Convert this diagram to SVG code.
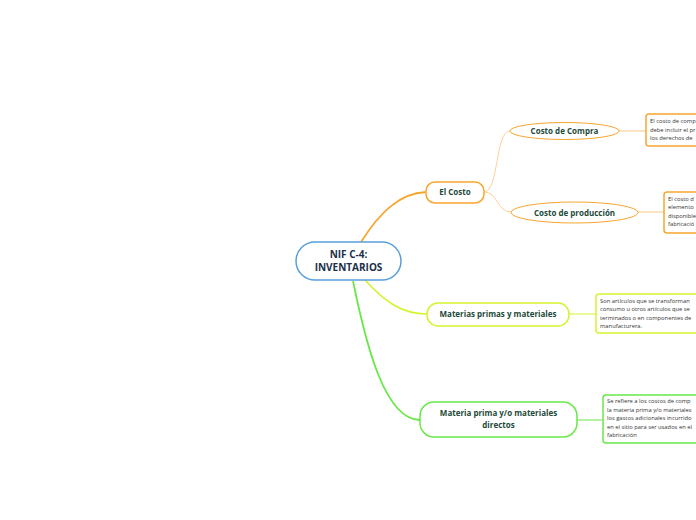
<svg xmlns="http://www.w3.org/2000/svg" width="696" height="520" viewBox="0 0 696 520">
<style>
.lbl{font-family:"Open Sans","Noto Sans",sans-serif;font-weight:bold;font-size:8px;fill:#1d4a3a;text-anchor:middle}
.ctr{font-family:"Open Sans","Noto Sans",sans-serif;font-weight:bold;font-size:10px;fill:#1b2f4a;text-anchor:middle}
.note{font-family:"Open Sans","Noto Sans",sans-serif;font-size:5.8px;fill:#333333}
.or{stroke:#f8a630}
.orl{stroke:#fdd09a}
.yg{stroke:#d6f22e}
.gr{stroke:#6ae84a}
</style>
<rect width="696" height="520" fill="#ffffff"/>
<g id="connectors" fill="none">
  <path class="or" stroke-width="1.8" d="M361,242 C380,212 400,193 426,192"/>
  <path class="orl" stroke-width="1" d="M484,192 C499,192 495,131 510,131"/>
  <path class="orl" stroke-width="1" d="M484,192 C498,192 497,212 511,212"/>
  <path class="orl" stroke-width="1.2" d="M619,131 L646,131"/>
  <path class="orl" stroke-width="1.2" d="M638,212 L664,212"/>
  <path class="yg" stroke-width="1.6" d="M365,280 C385,302 402,314 427,314"/>
  <path class="yg" stroke-width="1" d="M569,314 L596,314"/>
  <path class="gr" stroke-width="1.8" d="M353,281 C366,345 385,420 420,420"/>
  <path class="gr" stroke-width="1" d="M577,420 L603,420"/>
</g>
<g id="central">
  <rect x="296" y="242" width="105" height="38" rx="19" fill="#ffffff" stroke="#5a9fdc" stroke-width="1.5"/>
  <text class="ctr" x="348.5" y="258">NIF C-4:</text>
  <text class="ctr" x="348.5" y="271">INVENTARIOS</text>
</g>
<g id="el-costo">
  <rect x="426" y="182" width="58" height="21" rx="9" fill="#ffffff" stroke="#f8a630" stroke-width="1.5"/>
  <text class="lbl" x="455" y="195">El Costo</text>
</g>
<g id="costo-compra">
  <ellipse cx="564.5" cy="131" rx="54.5" ry="8.5" fill="#ffffff" stroke="#f8a630" stroke-width="1"/>
  <text class="lbl" x="564.5" y="134">Costo de Compra</text>
</g>
<g id="costo-compra-nota">
  <rect x="646" y="114" width="60" height="32" rx="3" fill="#ffffff" stroke="#f8a630" stroke-width="1.5"/>
  <text class="note" x="650" y="123">El costo de comp</text>
  <text class="note" x="650" y="131.5">debe incluir el pr</text>
  <text class="note" x="650" y="140">los derechos de</text>
</g>
<g id="costo-produccion">
  <ellipse cx="574.5" cy="212.5" rx="63.5" ry="10.5" fill="#ffffff" stroke="#f8a630" stroke-width="1"/>
  <text class="lbl" x="574.5" y="215.5">Costo de producción</text>
</g>
<g id="costo-produccion-nota">
  <rect x="664" y="192" width="40" height="41" rx="3" fill="#ffffff" stroke="#f8a630" stroke-width="1.5"/>
  <text class="note" x="668" y="200.5">El costo d</text>
  <text class="note" x="668" y="209">elemento</text>
  <text class="note" x="668" y="217.5">disponible</text>
  <text class="note" x="668" y="226">fabricació</text>
</g>
<g id="materias-primas">
  <rect x="427" y="303" width="142" height="23" rx="11" fill="#ffffff" stroke="#d6f22e" stroke-width="1.5"/>
  <text class="lbl" x="498" y="317">Materias primas y materiales</text>
</g>
<g id="materias-primas-nota">
  <rect x="596" y="294" width="110" height="39" rx="3" fill="#ffffff" stroke="#d6f22e" stroke-width="1.5"/>
  <text class="note" x="600" y="302.5">Son artículos que se transforman</text>
  <text class="note" x="600" y="311">consumo u otros artículos que se</text>
  <text class="note" x="600" y="319.5">terminados o en componentes de</text>
  <text class="note" x="600" y="328">manufacturera.</text>
</g>
<g id="materia-prima-directos">
  <rect x="420" y="402" width="157" height="35" rx="14" fill="#ffffff" stroke="#6ae84a" stroke-width="1.5"/>
  <text class="lbl" x="498.5" y="416">Materia prima y/o materiales</text>
  <text class="lbl" x="498.5" y="428">directos</text>
</g>
<g id="materia-prima-directos-nota">
  <rect x="603" y="395" width="100" height="48" rx="3" fill="#ffffff" stroke="#6ae84a" stroke-width="1.5"/>
  <text class="note" x="607" y="403">Se refiere a los costos de comp</text>
  <text class="note" x="607" y="411.5">la materia prima y/o materiales</text>
  <text class="note" x="607" y="420">los gastos adicionales incurrido</text>
  <text class="note" x="607" y="428.5">en el sitio para ser usados en el</text>
  <text class="note" x="607" y="437">fabricación</text>
</g>
</svg>
